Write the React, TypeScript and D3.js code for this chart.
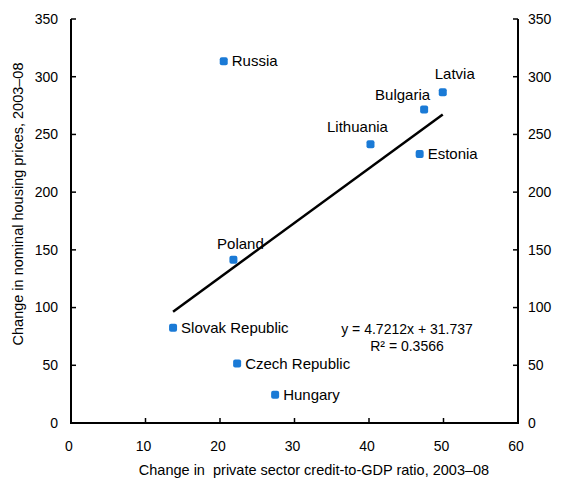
import React from "react";
import * as d3 from "d3";

const countries = ["Russia", "Latvia", "Bulgaria", "Lithuania", "Estonia", "Poland", "Slovak Republic", "Czech Republic", "Hungary"];
const creditChange = [20.5, 49.9, 47.4, 40.2, 46.8, 21.8, 13.7, 22.3, 27.4];
const housingChange = [313.5, 286.5, 271.5, 241.5, 233, 141.5, 82.5, 51.5, 24.5];
const labelPos = ["right", "above", "aboveLeft", "above", "right", "above", "right", "right", "right"];
const xTicks = [0, 10, 20, 30, 40, 50, 60];
const yTicks = [0, 50, 100, 150, 200, 250, 300, 350];
const slope = 4.7212;
const intercept = 31.737;

const W = 561, H = 483;
const left = 71, right = 518, top = 19, bottom = 423;
const font = "Liberation Sans, Arial, sans-serif";
const blue = "#1a7ad6";

export default function App() {
  const x = d3.scaleLinear().domain([0, 60]).range([left, right]);
  const y = d3.scaleLinear().domain([0, 350]).range([bottom, top]);
  const xMin = d3.min(creditChange) as number;
  const xMax = d3.max(creditChange) as number;
  const line = d3.line<number>().x((d) => x(d)).y((d) => y(slope * d + intercept));

  return (
    <svg width={W} height={H} style={{ position: "absolute", left: 0, top: 0, background: "#fff" }} fontFamily={font}>
      <rect width={W} height={H} fill="#fff" />
      {/* axes */}
      <path d={`M${left},${top}V${bottom}H${right}V${top}`} fill="none" stroke="#000" strokeWidth={2} />
      {yTicks.map((t) => (
        <g key={"y" + t}>
          <line x1={left} x2={left + 5} y1={y(t)} y2={y(t)} stroke="#000" strokeWidth={1.5} />
          <line x1={right - 5} x2={right} y1={y(t)} y2={y(t)} stroke="#000" strokeWidth={1.5} />
          <text x={left - 13} y={y(t)} dy="0.35em" textAnchor="end" fontSize={14} fill="#000">{t}</text>
          <text x={right + 10} y={y(t)} dy="0.35em" textAnchor="start" fontSize={14} fill="#000">{t}</text>
        </g>
      ))}
      {xTicks.map((t) => (
        <g key={"x" + t}>
          <line x1={x(t)} x2={x(t)} y1={bottom} y2={bottom - 5} stroke="#000" strokeWidth={1.5} />
          <text x={x(t) - 2} y={bottom + 23} dy="0.35em" textAnchor="middle" fontSize={14} fill="#000">{t}</text>
        </g>
      ))}
      {/* axis titles */}
      <text x={314} y={470} dy="0.35em" textAnchor="middle" fontSize={14.5} fill="#000" style={{ whiteSpace: "pre" }}>Change in  private sector credit-to-GDP ratio, 2003–08</text>
      <text transform={`translate(18,${(top + bottom) / 2 - 17}) rotate(-90)`} dy="0.35em" textAnchor="middle" fontSize={14.5} fill="#000">Change in nominal housing prices, 2003–08</text>
      {/* regression line */}
      <path d={line([xMin, xMax]) as string} fill="none" stroke="#000" strokeWidth={2.5} />
      {/* points */}
      {countries.map((c, i) => {
        const px = x(creditChange[i]);
        const py = y(housingChange[i]);
        const pos = labelPos[i];
        let tx = px + 8, ty = py, anchor = "start";
        if (pos === "above") { tx = px - 13; ty = py - 17; anchor = "middle"; }
        if (c === "Latvia") { tx = px + 12; ty = py - 19; }
        if (c === "Poland") { tx = px + 7; ty = py - 16; }
        if (pos === "aboveLeft") { tx = px + 6; ty = py - 15; anchor = "end"; }
        return (
          <g key={c}>
            <rect x={px - 4} y={py - 4} width={8} height={8} rx={2} fill={blue} />
            <text x={tx} y={ty} dy="0.35em" textAnchor={anchor} fontSize={15} fill="#000">{c}</text>
          </g>
        );
      })}
      <text x={407} y={329} dy="0.35em" textAnchor="middle" fontSize={14} fill="#000">y = 4.7212x + 31.737</text>
      <text x={407} y={346} dy="0.35em" textAnchor="middle" fontSize={14} fill="#000">R² = 0.3566</text>
    </svg>
  );
}
